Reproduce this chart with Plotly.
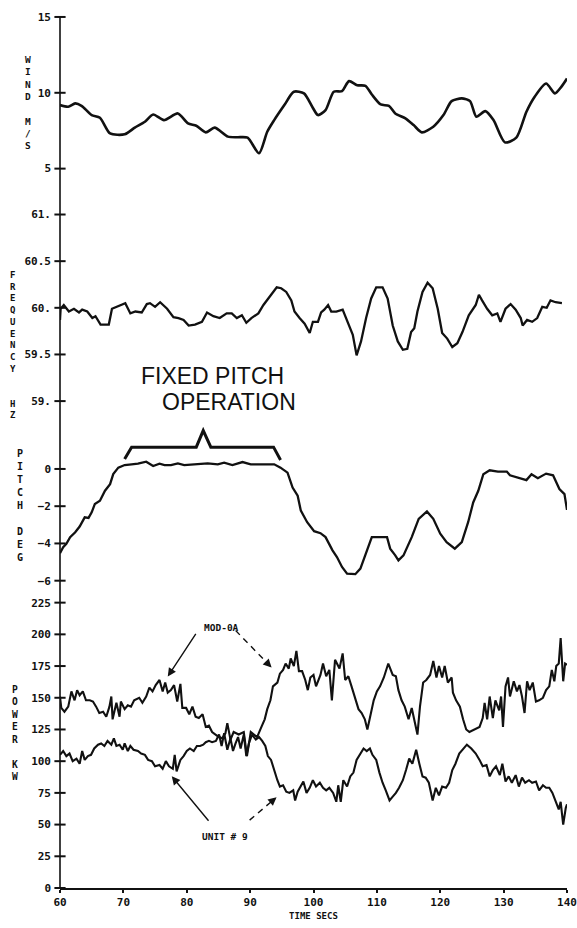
import plotly.graph_objects as go

# ---------------- data ----------------
wind_t = [60.0, 61.3, 62.4, 63.4, 65.0, 66.3, 67.9, 70.2, 71.8, 73.4,
          74.7, 76.4, 78.6, 80.2, 81.5, 83.0, 84.4, 86.5, 88.0, 89.6,
          91.4, 92.7, 93.8, 95.4, 96.9, 98.5, 99.8, 100.7, 101.9, 103.2,
          104.5, 105.6, 106.9, 108.2, 109.2, 110.6, 111.9, 112.9, 114.5, 115.8,
          117.1, 118.9, 120.5, 121.8, 123.4, 124.7, 125.7, 127.1, 128.4, 130.2,
          132.0, 133.6, 134.9, 136.7, 138.1, 139.1, 140.0]
wind_ms = [9.19, 9.08, 9.30, 9.14, 8.53, 8.36, 7.32, 7.26, 7.70, 8.09,
           8.57, 8.20, 8.64, 7.98, 7.83, 7.39, 7.70, 7.11, 7.07, 7.04,
           6.01, 7.43, 8.20, 9.19, 10.07, 9.96, 9.08, 8.53, 8.86, 10.07,
           10.11, 10.77, 10.50, 10.46, 9.89, 9.23, 9.14, 8.64, 8.31, 7.87,
           7.39, 7.76, 8.53, 9.45, 9.63, 9.45, 8.42, 8.79, 8.20, 6.73,
           7.04, 8.75, 9.74, 10.61, 9.96, 10.39, 10.94]

freq_t = [60.0, 60.1, 60.6, 61.4, 62.2, 63.0, 63.5, 64.3, 65.1, 65.6,
          66.4, 67.7, 68.2, 69.0, 69.8, 70.3, 71.1, 71.9, 72.9, 73.7,
          74.2, 75.0, 75.8, 76.9, 77.9, 78.7, 79.5, 80.3, 81.3, 82.4,
          83.2, 84.2, 85.2, 86.3, 87.1, 87.9, 88.7, 89.4, 90.2, 91.3,
          92.1, 93.1, 94.2, 94.9, 95.7, 96.5, 97.0, 97.8, 98.6, 99.4,
          99.9, 100.7, 101.2, 101.7, 102.3, 102.8, 103.6, 104.6, 105.4, 106.2,
          106.8, 107.5, 108.3, 109.1, 109.9, 110.9, 111.7, 112.5, 113.3, 114.1,
          114.8, 115.4, 115.9, 116.4, 117.2, 118.0, 118.8, 119.6, 120.3, 121.1,
          121.9, 122.7, 123.5, 124.5, 125.6, 126.1, 126.6, 127.4, 128.2, 129.0,
          129.5, 130.3, 131.1, 131.9, 132.7, 133.0, 133.7, 134.5, 135.3, 136.1,
          136.8, 137.4, 138.2, 139.2]
freq_hz = [59.87, 59.99, 60.03, 59.96, 59.99, 59.95, 59.98, 59.96, 59.89, 59.91,
           59.82, 59.82, 59.99, 60.01, 60.03, 60.05, 59.94, 59.96, 59.95, 60.04,
           60.05, 60.01, 60.06, 59.99, 59.90, 59.89, 59.87, 59.81, 59.82, 59.85,
           59.95, 59.91, 59.89, 59.94, 59.94, 59.89, 59.92, 59.84, 59.89, 59.94,
           60.03, 60.12, 60.22, 60.21, 60.17, 60.08, 59.96, 59.89, 59.83, 59.73,
           59.85, 59.85, 59.95, 59.98, 60.03, 59.96, 59.96, 59.98, 59.85, 59.71,
           59.49, 59.64, 59.89, 60.10, 60.22, 60.22, 60.10, 59.81, 59.64, 59.55,
           59.56, 59.74, 59.78, 59.96, 60.17, 60.27, 60.21, 59.99, 59.73, 59.67,
           59.58, 59.62, 59.74, 59.92, 60.03, 60.14, 60.08, 59.99, 59.92, 59.94,
           59.85, 59.99, 60.04, 59.98, 59.89, 59.81, 59.87, 59.85, 59.89, 60.01,
           60.00, 60.08, 60.06, 60.05]

pitch_t = [60.0, 60.5, 61.0, 61.6, 62.4, 63.1, 63.9, 64.5, 65.0, 65.5,
           66.3, 67.1, 67.9, 68.4, 69.2, 70.2, 71.3, 72.3, 73.6, 74.7,
           75.7, 76.5, 77.5, 78.6, 79.6, 81.7, 83.3, 84.9, 85.9, 87.2,
           88.8, 90.1, 92.2, 93.8, 94.8, 95.9, 96.7, 97.5, 98.0, 99.0,
           100.1, 101.1, 101.9, 103.0, 103.7, 104.5, 105.3, 106.6, 107.4, 108.2,
           109.2, 111.6, 112.1, 112.9, 113.4, 114.2, 115.5, 116.6, 117.9, 118.9,
           120.0, 121.0, 122.3, 123.4, 124.4, 125.2, 126.0, 126.8, 127.8, 129.1,
           130.5, 131.0, 132.0, 133.6, 134.4, 135.4, 136.7, 137.8, 138.8, 139.6,
           140.0]
pitch_deg = [-4.52, -4.20, -4.02, -3.66, -3.40, -3.09, -2.60, -2.63, -2.33, -1.88,
             -1.71, -1.17, -0.82, -0.28, 0.07, 0.21, 0.25, 0.28, 0.39, 0.16,
             0.28, 0.21, 0.21, 0.30, 0.21, 0.25, 0.30, 0.25, 0.34, 0.21,
             0.37, 0.25, 0.25, 0.25, 0.07, -0.20, -1.00, -1.44, -2.24, -2.86,
             -3.34, -3.45, -3.66, -4.37, -4.73, -5.26, -5.62, -5.65, -5.35, -4.55,
             -3.66, -3.66, -4.28, -4.64, -4.91, -4.64, -3.66, -2.68, -2.28, -2.68,
             -3.48, -3.93, -4.28, -3.93, -2.86, -1.80, -1.17, -0.28, -0.07, -0.14,
             -0.14, -0.34, -0.43, -0.60, -0.28, -0.50, -0.25, -0.34, -1.08, -1.35,
             -2.20]

mod0a_t = [60.0, 60.2, 60.7, 61.3, 61.8, 62.3, 62.7, 63.1, 63.6, 64.1,
           64.7, 65.2, 65.7, 66.2, 66.8, 67.3, 67.8, 68.1, 68.3, 68.9,
           69.4, 69.6, 70.2, 70.7, 71.2, 71.7, 72.5, 73.0, 73.6, 74.1,
           74.6, 75.1, 75.7, 76.2, 76.6, 77.0, 77.5, 78.0, 78.5, 79.0,
           79.3, 79.9, 80.4, 80.9, 81.4, 81.9, 82.5, 83.0, 83.5, 84.0,
           84.8, 85.6, 86.1, 86.4, 86.9, 87.4, 88.2, 89.0, 89.5, 90.1,
           90.6, 91.1, 91.7, 92.3, 92.7, 93.2, 93.6, 94.3, 94.7, 95.2,
           95.6, 96.1, 96.4, 96.9, 97.3, 97.7, 98.2, 98.7, 99.1, 99.5,
           100.0, 100.4, 101.1, 101.5, 102.0, 102.5, 102.9, 103.4, 104.1, 104.6,
           105.0, 105.5, 106.0, 106.6, 107.1, 107.6, 108.1, 108.5, 108.9, 109.5,
           110.0, 110.5, 111.1, 111.8, 112.5, 113.0, 113.4, 113.9, 114.4, 115.0,
           115.5, 116.0, 116.4, 116.8, 117.3, 117.8, 118.4, 118.9, 119.4, 119.8,
           120.3, 120.7, 121.2, 121.8, 122.0, 122.5, 123.1, 123.6, 124.1, 124.6,
           125.4, 126.2, 126.7, 127.0, 127.4, 127.8, 128.3, 128.7, 129.3, 129.6,
           129.9, 130.3, 130.7, 131.0, 131.6, 132.1, 132.5, 132.9, 133.3, 133.7,
           134.1, 134.6, 135.1, 135.6, 136.2, 136.7, 137.2, 137.6, 138.0, 138.3,
           138.7, 139.0, 139.4, 139.7, 140.0]
mod0a_kw = [151, 142, 139, 143, 155, 148, 156, 152, 155, 148,
            148, 147, 143, 138, 139, 135, 143, 151, 133, 146,
            135, 147, 141, 144, 143, 148, 150, 146, 151, 158,
            155, 160, 164, 155, 162, 154, 156, 160, 147, 161,
            142, 142, 137, 143, 135, 134, 137, 127, 128, 123,
            120, 118, 122, 130, 117, 123, 121, 123, 104, 123,
            121, 119, 126, 133, 141, 148, 159, 162, 169, 172,
            177, 173, 181, 175, 187, 171, 171, 164, 156, 166,
            168, 159, 168, 177, 167, 172, 148, 180, 173, 185,
            164, 167, 159, 148, 141, 138, 133, 125, 135, 148,
            155, 159, 166, 177, 168, 167, 156, 148, 143, 133,
            142, 130, 121, 143, 162, 164, 168, 179, 166, 175,
            166, 175, 162, 166, 154, 148, 143, 133, 125, 123,
            125, 127, 134, 146, 133, 151, 134, 148, 140, 151,
            127, 159, 166, 151, 163, 155, 160, 151, 138, 163,
            156, 162, 147, 148, 150, 156, 159, 172, 163, 175,
            177, 197, 163, 177, 176]

unit9_t = [60.0, 60.5, 61.0, 61.5, 62.0, 62.6, 63.1, 63.5, 63.9, 64.4,
           64.9, 65.4, 66.0, 66.5, 67.0, 67.5, 68.1, 68.5, 68.9, 69.4,
           69.9, 70.2, 70.7, 71.1, 71.6, 72.3, 72.8, 73.4, 73.9, 74.5,
           75.0, 75.7, 76.2, 76.7, 77.2, 77.8, 78.1, 78.4, 79.0, 79.5,
           80.0, 80.5, 81.1, 81.6, 82.1, 82.6, 83.0, 83.5, 84.0, 84.6,
           85.1, 85.5, 85.9, 86.4, 86.9, 87.3, 87.7, 88.1, 88.5, 89.0,
           89.4, 89.8, 90.3, 90.9, 91.4, 91.9, 92.4, 92.8, 93.3, 93.8,
           94.3, 94.7, 95.2, 95.7, 96.2, 96.8, 97.1, 97.5, 98.0, 98.4,
           98.9, 99.4, 99.9, 100.4, 101.0, 101.5, 102.0, 102.5, 103.1, 103.6,
           103.9, 104.3, 104.7, 105.3, 105.8, 106.3, 106.8, 107.4, 107.9, 108.4,
           108.9, 109.3, 109.9, 110.4, 110.9, 111.4, 112.0, 112.5, 113.0, 113.5,
           114.1, 114.6, 115.1, 115.6, 116.2, 116.7, 117.2, 117.7, 118.2, 118.8,
           119.3, 119.8, 120.3, 120.9, 121.4, 121.9, 122.4, 123.0, 123.6, 124.2,
           124.9, 125.6, 126.2, 126.7, 127.3, 127.8, 128.3, 128.8, 129.4, 129.8,
           130.3, 130.8, 131.3, 131.9, 132.4, 132.9, 133.4, 134.0, 134.5, 135.1,
           135.6, 136.2, 136.7, 137.2, 137.7, 138.3, 138.7, 139.0, 139.4, 139.8,
           140.0]
unit9_kw = [105, 108, 104, 106, 100, 102, 98, 108, 101, 104,
            105, 110, 113, 114, 112, 116, 113, 118, 112, 113,
            109, 114, 108, 112, 109, 108, 106, 105, 101, 100,
            96, 97, 94, 100, 96, 94, 105, 92, 101, 104,
            108, 110, 108, 112, 112, 113, 115, 116, 115, 116,
            121, 112, 122, 109, 118, 108, 114, 119, 110, 121,
            104, 114, 121, 117, 119, 116, 112, 104, 101, 92,
            85, 80, 81, 76, 75, 77, 69, 76, 80, 84,
            75, 79, 85, 80, 83, 79, 77, 79, 75, 68,
            81, 68, 85, 80, 88, 91, 101, 106, 110, 108,
            110, 105, 101, 91, 83, 77, 69, 72, 75, 79,
            85, 93, 102, 98, 109, 98, 88, 87, 83, 69,
            79, 73, 80, 79, 83, 93, 98, 106, 110, 113,
            110, 106, 101, 96, 97, 88, 93, 96, 89, 98,
            84, 88, 83, 89, 80, 87, 83, 85, 83, 84,
            77, 81, 79, 79, 75, 68, 62, 68, 50, 63,
            66]

time_ticks = [60, 70, 80, 90, 100, 110, 120, 130, 140]
wind_ticks = [5, 10, 15]
freq_ticks = [59, 59.5, 60, 60.5, 61]
freq_labels = ["59.", "59.5", "60.", "60.5", "61."]
pitch_ticks = [-6, -4, -2, 0]
power_ticks = [0, 25, 50, 75, 100, 125, 150, 175, 200, 225]

# ---------------- page geometry ----------------
W, H = 577, 928
ML, MR, MT, MB = 60, 9, 0, 40
PLOT_W = W - ML - MR
PLOT_H = H - MT - MB
INK = "#111111"
MONO = "DejaVu Sans Mono"


def fx(px):
    """page pixel x -> paper x"""
    return (px - ML) / PLOT_W


def fy(py):
    """page pixel y -> paper y"""
    return (H - MB - py) / PLOT_H


def panel(top, bottom, v1, p1, v2, p2):
    """Domain from a pixel extent and axis range from two calibration ticks."""
    scale = (p1 - p2) / (v2 - v1)
    vtop = v1 + (p1 - top) / scale
    vbot = v1 + (p1 - bottom) / scale
    return [fy(bottom), fy(top)], [vbot, vtop]


power_dom, power_rng = panel(598, 888, 0, 888, 225, 602)
pitch_dom, pitch_rng = panel(422, 594, 0, 468, -6, 580)
freq_dom, freq_rng = panel(192, 418, 61, 213, 59, 400)
wind_dom, wind_rng = panel(8, 190, 10, 91, 5, 167)

fig = go.Figure()

line_style = dict(color=INK, width=2.3)
fig.add_trace(go.Scatter(x=wind_t, y=wind_ms, mode="lines", yaxis="y4",
                         line=dict(color=INK, width=2.6, shape="spline", smoothing=0.7)))
fig.add_trace(go.Scatter(x=freq_t, y=freq_hz, mode="lines", yaxis="y3", line=line_style))
fig.add_trace(go.Scatter(x=pitch_t, y=pitch_deg, mode="lines", yaxis="y2", line=line_style))
fig.add_trace(go.Scatter(x=mod0a_t, y=mod0a_kw, mode="lines", yaxis="y",
                         line=dict(color=INK, width=2.1)))
fig.add_trace(go.Scatter(x=unit9_t, y=unit9_kw, mode="lines", yaxis="y",
                         line=dict(color=INK, width=2.1)))

# cross-shaped tick marks on the shared vertical axis
for ticks, ax in [(wind_ticks, "y4"), (freq_ticks, "y3"), (pitch_ticks, "y2"), (power_ticks, "y")]:
    fig.add_trace(go.Scatter(x=[time_ticks[0]] * len(ticks), y=ticks, mode="markers", yaxis=ax,
                             cliponaxis=False,
                             marker=dict(symbol="line-ew", size=8, line=dict(color=INK, width=2))))

tickfont = dict(family=MONO, size=11, color=INK, weight="bold")


def yax(dom, rng, vals, text=None):
    d = dict(domain=dom, range=rng, tickvals=vals, showline=False, ticks="",
             showgrid=False, zeroline=False, tickfont=tickfont, anchor="x",
             ticklabelstandoff=8, fixedrange=True)
    if text is not None:
        d["ticktext"] = text
    return d


fig.update_layout(
    width=W, height=H,
    margin=dict(l=ML, r=MR, t=MT, b=MB),
    paper_bgcolor="white", plot_bgcolor="white",
    showlegend=False,
    xaxis=dict(domain=[0, 1], range=[60, 140], tickvals=time_ticks, anchor="y",
               showline=True, linecolor=INK, linewidth=1.8, ticks="outside",
               ticklen=3, tickwidth=2, tickcolor=INK, showgrid=False, zeroline=False,
               tickfont=tickfont, ticklabeloverflow="allow",
               title=dict(text="TIME SECS", font=dict(family=MONO, size=9, color=INK, weight="bold"),
                          standoff=5)),
    yaxis=yax(power_dom, power_rng, power_ticks),
    yaxis2=yax(pitch_dom, pitch_rng, pitch_ticks),
    yaxis3=yax(freq_dom, freq_rng, freq_ticks, freq_labels),
    yaxis4=yax(wind_dom, wind_rng, wind_ticks),
)

# continuous vertical axis line through all four panels
shapes = [dict(type="line", xref="paper", yref="paper", x0=0, x1=0, y0=0, y1=fy(15),
               line=dict(color=INK, width=1.6))]

# bracket over the fixed pitch interval
shapes.append(dict(type="path", xref="x", yref="y2",
                   path="M 70.2,0.53 L 71.3,1.17 L 81.5,1.17 L 82.6,2.06 L 83.8,1.17 "
                        "L 93.7,1.17 L 94.8,0.48",
                   line=dict(color=INK, width=3)))

annotations = []


def stacked(letters, x, y, size):
    annotations.append(dict(text="<br>".join(letters), x=fx(x), y=fy(y), xref="paper", yref="paper",
                            showarrow=False, xanchor="center", yanchor="middle", align="center",
                            font=dict(family=MONO, size=size, color=INK, weight="bold")))


stacked(list("WIND") + [""] + list("M/S"), 28, 101, 9.5)
stacked(list("FREQUENCY") + ["", ""] + list("HZ"), 13, 344, 9)
stacked(list("PITCH") + [""] + list("DEG"), 20, 505, 10)
stacked(list("POWER") + [""] + list("KW"), 15, 733, 9.6)


def label(text, x, y, size, family=MONO, weight="bold"):
    annotations.append(dict(text=text, x=fx(x), y=fy(y), xref="paper", yref="paper",
                            showarrow=False, xanchor="center", yanchor="middle", borderpad=0,
                            font=dict(family=family, size=size, color=INK, weight=weight)))


label("FIXED PITCH", 213, 375, 23, family="Liberation Sans", weight="normal")
label("OPERATION", 229, 401, 23, family="Liberation Sans", weight="normal")
label("MOD-0A", 222, 627, 9.5)
label("UNIT # 9", 225, 836, 9.5)


def arrow(tail, head, dashed=False):
    tx, ty = tail
    hx, hy = head
    if not dashed:
        annotations.append(dict(text="", x=fx(hx), y=fy(hy), xref="paper", yref="paper",
                                ax=tx - hx, ay=ty - hy, showarrow=True, arrowhead=2,
                                arrowsize=1.2, arrowwidth=1.4, arrowcolor=INK))
        return
    dx, dy = tx - hx, ty - hy
    n = (dx * dx + dy * dy) ** 0.5
    ux, uy = dx / n, dy / n
    shapes.append(dict(type="line", xref="paper", yref="paper",
                       x0=fx(tx), y0=fy(ty), x1=fx(hx + 6 * ux), y1=fy(hy + 6 * uy),
                       line=dict(color=INK, width=1.4, dash="6px,5px")))
    annotations.append(dict(text="", x=fx(hx), y=fy(hy), xref="paper", yref="paper",
                            ax=9 * ux, ay=9 * uy, showarrow=True, arrowhead=2,
                            arrowsize=1.2, arrowwidth=1.4, arrowcolor=INK))


arrow((197, 632), (168, 676))
arrow((236, 630), (272, 667), dashed=True)
arrow((210, 822), (172, 776))
arrow((250, 820), (277, 797), dashed=True)

fig.update_layout(shapes=shapes, annotations=annotations)

fig.write_html("out.html")
